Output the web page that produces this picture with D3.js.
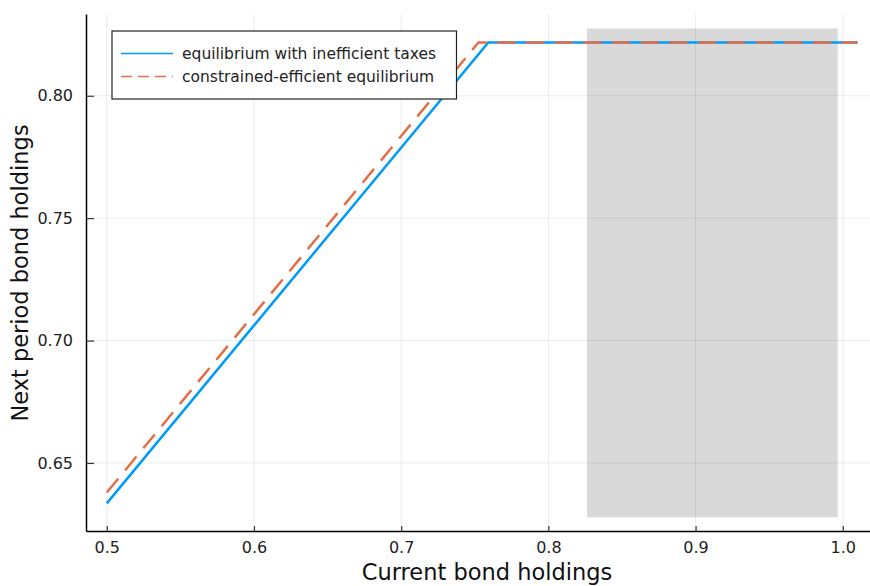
<!DOCTYPE html>
<html><head><meta charset="utf-8">
<script src="https://cdn.jsdelivr.net/npm/d3@7"></script>
<style>body{margin:0;background:#fff}svg{display:block}text{font-family:"DejaVu Sans",sans-serif}</style>
</head><body><svg id="c" width="870" height="586"></svg>
<script>
const seriesNames = ["equilibrium with inefficient taxes", "constrained-efficient equilibrium"];
const blueX = [0.5, 0.7592, 1.01];
const blueY = [0.6335, 0.8218, 0.8218];
const orangeX = [0.5, 0.7525, 1.01];
const orangeY = [0.6379, 0.8218, 0.8218];
const shadeX = [0.8263, 0.9966];
const shadeY = [0.6278, 0.8275];
const xTicks = [0.5, 0.6, 0.7, 0.8, 0.9, 1.0];
const yTicks = [0.65, 0.70, 0.75, 0.80];
const xLabel = "Current bond holdings";
const yLabel = "Next period bond holdings";

const svg = d3.select("#c");
const L = 86, R = 870, T = 14, B = 531;
const x = d3.scaleLinear().domain([0.4859, 1.0185]).range([L, R]);
const y = d3.scaleLinear().domain([0.6222, 0.8334]).range([B, T]);

// shaded region
svg.append("rect")
  .attr("x", x(shadeX[0])).attr("y", y(shadeY[1]))
  .attr("width", x(shadeX[1]) - x(shadeX[0])).attr("height", y(shadeY[0]) - y(shadeY[1]))
  .attr("fill", "#d9d9d9");

// grid
const g = svg.append("g");
g.selectAll(".gx").data(xTicks).join("line")
  .attr("x1", d => x(d)).attr("x2", d => x(d)).attr("y1", T).attr("y2", B)
  .attr("stroke", "#000").attr("stroke-opacity", 0.08).attr("stroke-width", 1);
g.selectAll(".gy").data(yTicks).join("line")
  .attr("y1", d => y(d)).attr("y2", d => y(d)).attr("x1", L).attr("x2", R)
  .attr("stroke", "#000").attr("stroke-opacity", 0.08).attr("stroke-width", 1);

// axes
const xAxis = svg.append("g").attr("transform", `translate(0,${B})`)
  .call(d3.axisBottom(x).tickValues(xTicks).tickFormat(d3.format(".1f")).tickSizeInner(-5).tickSizeOuter(0).tickPadding(11));
const yAxis = svg.append("g").attr("transform", `translate(${L},0)`)
  .call(d3.axisLeft(y).tickValues(yTicks).tickFormat(d3.format(".2f")).tickSizeInner(-8).tickSizeOuter(0).tickPadding(13));
[xAxis, yAxis].forEach(a => {
  a.select(".domain").attr("stroke", "#000").attr("stroke-width", 1.5);
  a.selectAll(".tick line").attr("stroke", "#333").attr("stroke-width", 1.2);
  a.selectAll(".tick text").attr("font-size", 16).attr("fill", "#222").attr("font-family", "DejaVu Sans, sans-serif");
});

// lines
const line = d3.line().x(d => x(d[0])).y(d => y(d[1]));
svg.append("path").datum(d3.zip(blueX, blueY)).attr("d", line)
  .attr("fill", "none").attr("stroke", "#009af9").attr("stroke-width", 2.5);
svg.append("path").datum(d3.zip(orangeX, orangeY)).attr("d", line)
  .attr("fill", "none").attr("stroke", "#e26f46").attr("stroke-width", 2.5).attr("stroke-dasharray", "18,10.7");

// legend
const lg = svg.append("g");
lg.append("rect").attr("x", 112).attr("y", 31).attr("width", 344.5).attr("height", 68)
  .attr("fill", "#fff").attr("stroke", "#222").attr("stroke-width", 1.2);
const colors = ["#009af9", "#e26f46"];
const dashes = [null, "11,6"];
seriesNames.forEach((n, i) => {
  const yy = 53.5 + i * 23;
  lg.append("line").attr("x1", 121).attr("x2", 173).attr("y1", yy).attr("y2", yy)
    .attr("stroke", colors[i]).attr("stroke-width", 1.5).attr("stroke-dasharray", dashes[i]);
  lg.append("text").attr("x", 182).attr("y", yy).attr("dy", "0.35em")
    .attr("font-size", 15.5).attr("fill", "#222").text(n);
});

// axis labels
svg.append("text").attr("x", 487).attr("y", 580).attr("text-anchor", "middle")
  .attr("font-size", 22.5).attr("fill", "#111").text(xLabel);
svg.append("text").attr("transform", `translate(28,273) rotate(-90)`).attr("text-anchor", "middle")
  .attr("font-size", 22.5).attr("fill", "#111").text(yLabel);
</script></body></html>
